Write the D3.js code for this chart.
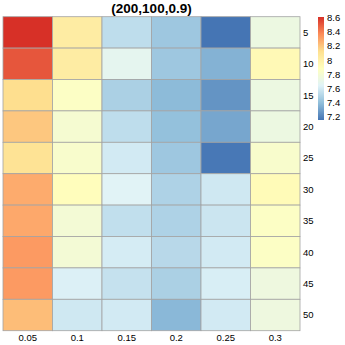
<!DOCTYPE html>
<html>
<head>
<meta charset="utf-8">
<script src="https://cdn.jsdelivr.net/npm/d3@7"></script>
<style>
  body { margin: 0; background: #fff; }
  text { font-family: "Liberation Sans", Arial, sans-serif; }
</style>
</head>
<body>
<div id="chart"></div>
<script>
// columns and rows of the heatmap
const colLabels = ["0.05", "0.1", "0.15", "0.2", "0.25", "0.3"];
const rowLabels = ["5", "10", "15", "20", "25", "30", "35", "40", "45", "50"];

// one array per row
const row5  = [8.61, 8.03, 7.54, 7.44, 7.16, 7.74];
const row10 = [8.51, 8.03, 7.68, 7.44, 7.36, 7.93];
const row15 = [8.13, 7.86, 7.48, 7.39, 7.26, 7.74];
const row20 = [8.20, 7.81, 7.54, 7.41, 7.32, 7.74];
const row25 = [8.10, 7.83, 7.60, 7.44, 7.17, 7.83];
const row30 = [8.28, 7.90, 7.65, 7.49, 7.59, 7.92];
const row35 = [8.29, 7.79, 7.55, 7.49, 7.58, 7.86];
const row40 = [8.33, 7.79, 7.61, 7.52, 7.60, 7.86];
const row45 = [8.33, 7.63, 7.56, 7.48, 7.62, 7.75];
const row50 = [8.23, 7.59, 7.60, 7.38, 7.60, 7.75];
const rows = [row5, row10, row15, row20, row25, row30, row35, row40, row45, row50];

const legendTicks = [7.2, 7.4, 7.6, 7.8, 8, 8.2, 8.4, 8.6];
const title = "(200,100,0.9)";

// pheatmap default palette (rev RdYlBu, 7 classes)
const palette = ["#4575b4", "#91bfdb", "#e0f3f8", "#ffffbf", "#fee090", "#fc8d59", "#d73027"];

const W = 345, H = 345;
const plot = { left: 3, right: 300, top: 16.7, bottom: 330.7 };

const svg = d3.select("#chart").append("svg")
    .attr("width", W)
    .attr("height", H);

const x = d3.scaleBand().domain(colLabels).range([plot.left, plot.right]);
const y = d3.scaleBand().domain(rowLabels).range([plot.top, plot.bottom]);

const allVals = rows.flat();
const [vmin, vmax] = d3.extent(allVals);
const color = d3.scaleLinear()
    .domain(palette.map((_, i) => vmin + (vmax - vmin) * i / (palette.length - 1)))
    .range(palette)
    .interpolate(d3.interpolateRgb);

const cells = [];
rows.forEach((r, i) => r.forEach((v, j) => cells.push({ row: rowLabels[i], col: colLabels[j], v })));

svg.append("g").selectAll("rect")
    .data(cells)
    .join("rect")
    .attr("x", d => x(d.col))
    .attr("y", d => y(d.row))
    .attr("width", x.bandwidth())
    .attr("height", y.bandwidth())
    .attr("fill", d => color(d.v))
    .attr("stroke", "#a3a3a3")
    .attr("stroke-width", 0.8);

// title
svg.append("text")
    .attr("x", (plot.left + plot.right) / 2)
    .attr("y", 12.5)
    .attr("text-anchor", "middle")
    .attr("font-size", 13.5)
    .attr("font-weight", "bold")
    .text(title);

// column labels
svg.append("g").selectAll("text")
    .data(colLabels)
    .join("text")
    .attr("x", d => x(d) + x.bandwidth() / 2)
    .attr("y", plot.bottom + 10)
    .attr("text-anchor", "middle")
    .attr("font-size", 9.5)
    .text(d => d);

// row labels
svg.append("g").selectAll("text")
    .data(rowLabels)
    .join("text")
    .attr("x", plot.right + 3)
    .attr("y", d => y(d) + y.bandwidth() / 2)
    .attr("dy", "0.35em")
    .attr("font-size", 9.5)
    .text(d => d);

// colour legend
const leg = { x: 318, w: 6, top: 17, bottom: 120 };
const ly = d3.scaleLinear().domain([vmin, vmax]).range([leg.bottom, leg.top]);

const grad = svg.append("defs").append("linearGradient")
    .attr("id", "lg")
    .attr("x1", 0).attr("y1", 1).attr("x2", 0).attr("y2", 0);
grad.selectAll("stop")
    .data(palette)
    .join("stop")
    .attr("offset", (d, i) => i / (palette.length - 1))
    .attr("stop-color", d => d);

svg.append("rect")
    .attr("x", leg.x)
    .attr("y", leg.top)
    .attr("width", leg.w)
    .attr("height", leg.bottom - leg.top)
    .attr("fill", "url(#lg)");

svg.append("g").selectAll("text")
    .data(legendTicks)
    .join("text")
    .attr("x", leg.x + leg.w + 3)
    .attr("y", d => ly(d))
    .attr("dy", "0.35em")
    .attr("font-size", 9.5)
    .text(d => d);
</script>
</body>
</html>
